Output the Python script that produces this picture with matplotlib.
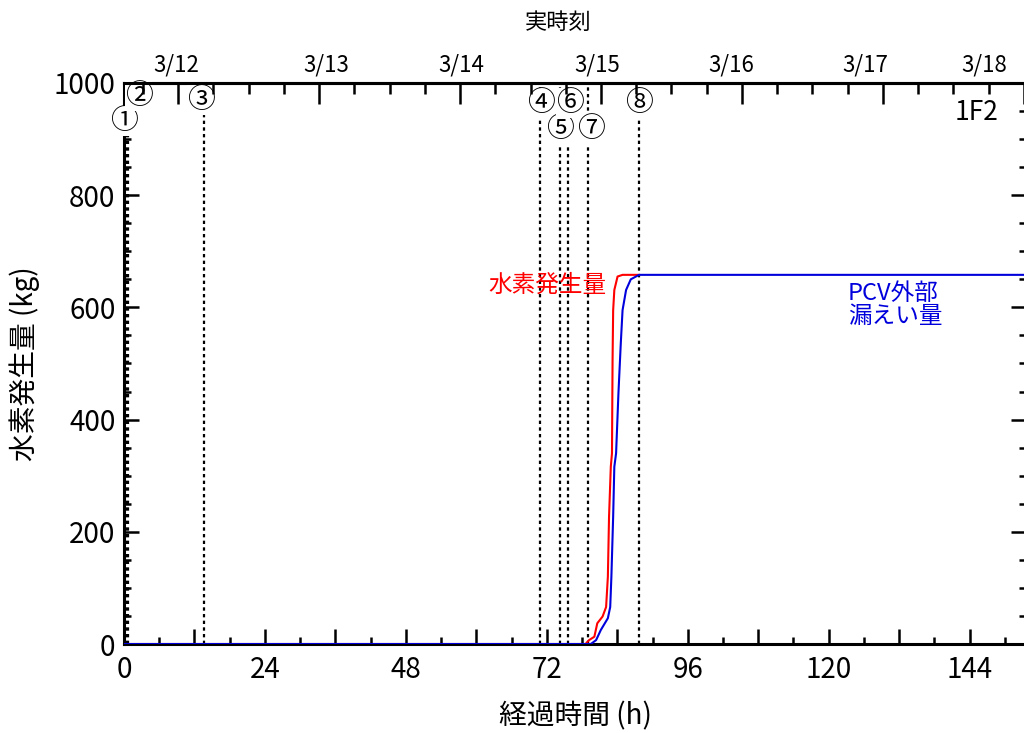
import matplotlib
matplotlib.use("Agg")
import matplotlib.pyplot as plt
from matplotlib.ticker import MultipleLocator, FuncFormatter
import matplotlib.transforms as mtransforms

plt.rcParams['font.family'] = ['Noto Sans CJK JP', 'DejaVu Sans']

# hydrogen generation (red), hours after the earthquake vs kg
gen_hours = [0, 78.6, 79.2, 80.1, 80.6, 81.5, 82.1, 82.4, 82.6, 82.9, 83.1,
             83.2, 83.3, 83.5, 84.05, 84.9, 87.7]
gen_kg = [0, 0, 7, 13, 37, 49, 66, 120, 227, 316, 340,
          506, 595, 631, 655, 658, 658]

# leak out of the PCV (blue)
leak_hours = [0, 79.5, 80.4, 81.2, 82.4, 82.8, 83.0, 83.3, 83.5, 83.8,
              84.2, 84.6, 84.9, 85.5, 86.3, 87.7, 153.6]
leak_kg = [0, 0, 7, 25, 46, 66, 120, 227, 316, 340,
           447, 536, 595, 631, 650, 658, 658]

# events marked with dotted lines
event_labels = ['①', '②', '③', '④', '⑤', '⑥', '⑦', '⑧']
event_hours = [0.3, 0.75, 13.65, 70.8, 74.2, 75.6, 79.0, 87.7]
label_hours = [0.0, 2.5, 13.1, 71.0, 74.3, 76.0, 79.5, 87.7]
label_kg = [932, 976, 970, 964, 918, 964, 918, 964]

# real-time (top) axis: midnight of 3/12 is 9.23 h after 3/11 14:46
day_start = 9.23
date_labels = ['3/12', '3/13', '3/14', '3/15', '3/16', '3/17', '3/18']
date_label_hours = [8.9, 34.5, 57.5, 80.5, 103.4, 126.3, 146.4]

x_max = 153.6

fig = plt.figure(figsize=(10.24, 7.33), dpi=100)
ax = fig.add_axes([0.121, 0.1214, 0.881, 0.7654])

ax.plot(gen_hours, gen_kg, color='red', lw=1.5, zorder=3)
ax.plot(leak_hours, leak_kg, color='#0000dd', lw=1.5, zorder=4)

for h in event_hours:
    ax.axvline(h, color='black', lw=1.6, dashes=(1.5, 1.5), zorder=2)

for lab, h, k in zip(event_labels, label_hours, label_kg):
    ax.text(h, k, lab, fontsize=20, ha='center', va='center', zorder=5,
            bbox=dict(facecolor='white', edgecolor='none', pad=0.0))

ax.set_xlim(0, x_max)
ax.set_ylim(0, 1000)

ax.xaxis.set_major_locator(MultipleLocator(12))
ax.xaxis.set_minor_locator(MultipleLocator(6))
ax.xaxis.set_major_formatter(
    FuncFormatter(lambda v, p: f'{int(v)}' if int(v) % 24 == 0 else ''))
ax.yaxis.set_major_locator(MultipleLocator(200))
ax.yaxis.set_minor_locator(MultipleLocator(50))

ax.tick_params(which='both', direction='in', width=1.8, labelsize=20,
               bottom=True, top=False, left=True, right=True)
ax.tick_params(which='major', length=11)
ax.tick_params(which='minor', length=5)
ax.tick_params(axis='x', pad=8)
ax.tick_params(axis='y', pad=6)

for s in ax.spines.values():
    s.set_linewidth(2.2)

ax.set_xlabel('経過時間 (h)', fontsize=20, labelpad=12)
ax.set_ylabel('水素発生量 (kg)', fontsize=20, labelpad=10)

ax.text(0.97, 0.947, '1F2', transform=ax.transAxes, fontsize=19,
        ha='right', va='center')
ax.text(82.2, 640, '水素発生量', color='red', fontsize=17,
        ha='right', va='center')
ax.text(123.3, 605, 'PCV外部\n漏えい量', color='#0000dd', fontsize=17,
        ha='left', va='center', linespacing=1.0)

# top axis with the calendar date
top = ax.twiny()
top.set_xlim(ax.get_xlim())
top.set_xticks([day_start + 24 * i for i in range(7)])
top.set_xticks([day_start - 6 + 6 * i for i in range(26)], minor=True)
top.set_xticklabels([])
top.tick_params(which='both', direction='in', width=1.8)
top.tick_params(which='major', length=15)
top.tick_params(which='minor', length=8)
top.spines['top'].set_linewidth(2.2)
for s in ['left', 'right', 'bottom']:
    top.spines[s].set_visible(False)

trans = mtransforms.blended_transform_factory(ax.transData, ax.transAxes)
for lab, h in zip(date_labels, date_label_hours):
    ax.text(h, 1.012, lab, transform=trans, fontsize=16,
            ha='center', va='bottom')
fig.text(0.545, 0.97, '実時刻', fontsize=16, ha='center', va='center')

fig.savefig('out.png', dpi=100)
